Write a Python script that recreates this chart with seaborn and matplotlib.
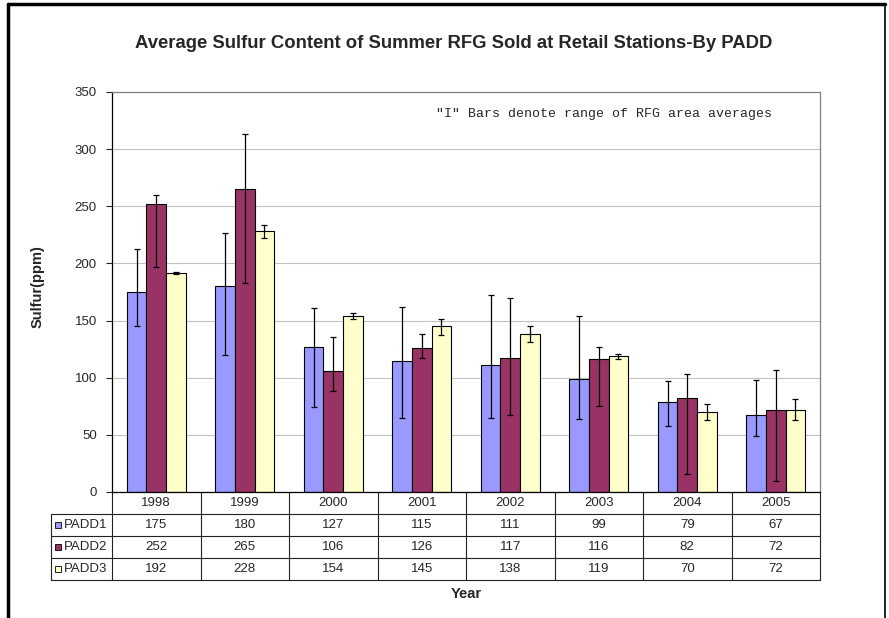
import numpy as np
import pandas as pd
import matplotlib
matplotlib.use("Agg")
import matplotlib.pyplot as plt
import seaborn as sns
from matplotlib.patches import Rectangle

# Data
years = ['1998', '1999', '2000', '2001', '2002', '2003', '2004', '2005']
padd1 = [175, 180, 127, 115, 111, 99, 79, 67]
padd2 = [252, 265, 106, 126, 117, 116, 82, 72]
padd3 = [192, 228, 154, 145, 138, 119, 70, 72]

# "I" bars: range of RFG area averages (estimated)
padd1_hi = [213, 227, 161, 162, 172, 154, 97, 98]
padd1_lo = [145, 120, 74, 65, 65, 64, 58, 49]
padd2_hi = [260, 313, 136, 138, 170, 127, 103, 107]
padd2_lo = [197, 183, 88, 117, 67, 75, 16, 10]
padd3_hi = [192.5, 234, 157, 151, 145, 121, 77, 81]
padd3_lo = [191, 222, 151, 137, 131, 116, 63, 63]

series = ['PADD1', 'PADD2', 'PADD3']
colors = ['#9999FF', '#993366', '#FFFFCC']

values = [padd1, padd2, padd3]
highs = [padd1_hi, padd2_hi, padd3_hi]
lows = [padd1_lo, padd2_lo, padd3_lo]

df = pd.DataFrame({
    'Year': years * 3,
    'Sulfur': padd1 + padd2 + padd3,
    'PADD': [s for s in series for _ in years],
})

sns.set_style('white')
plt.rcParams['font.family'] = ['Liberation Sans', 'DejaVu Sans']

fig = plt.figure(figsize=(8.89, 6.18), dpi=100)
ax = fig.add_axes([112 / 889, 1 - 492 / 618, 708 / 889, 400 / 618])

sns.barplot(data=df, x='Year', y='Sulfur', hue='PADD', order=years,
            hue_order=series, palette=colors, saturation=1, width=0.667,
            edgecolor='black', linewidth=0.8, errorbar=None, legend=False,
            ax=ax)

# range bars at the bar centres
for cont, v, hi, lo in zip(ax.containers, values, highs, lows):
    xs = [p.get_x() + p.get_width() / 2 for p in cont.patches]
    v = np.array(v, dtype=float)
    yerr = [v - np.array(lo), np.array(hi) - v]
    ax.errorbar(xs, v, yerr=yerr, fmt='none', ecolor='black',
                elinewidth=0.9, capsize=2.5, capthick=0.9, zorder=5)

ax.set_xlim(-0.5, 7.5)
ax.set_ylim(0, 350)
ax.set_yticks(np.arange(0, 351, 50))
ax.tick_params(axis='y', labelsize=9.5, length=4, width=0.8, pad=7,
               direction='out', left=True)
ax.set_xticks([])
ax.set_xlabel('')
ax.set_ylabel('')
ax.yaxis.grid(True, color='#c0c0c0', linewidth=0.8)
ax.set_axisbelow(True)
for side in ['left', 'bottom']:
    ax.spines[side].set_color('black')
    ax.spines[side].set_linewidth(0.9)
for side in ['top', 'right']:
    ax.spines[side].set_color('#808080')
    ax.spines[side].set_linewidth(0.9)

ax.text(0.932, 0.945, '"I" Bars denote range of RFG area averages',
        transform=ax.transAxes, ha='right', va='center',
        family='Liberation Mono', fontsize=9.5)

# data table under the plot
h = 22 / 400
xl = -61 / 708
lc = '#222222'
kw = dict(transform=ax.transAxes, clip_on=False, color=lc, lw=0.8)
for r in range(1, 5):
    ax.plot([xl, 1], [-r * h, -r * h], **kw)
for k in range(9):
    ax.plot([k / 8, k / 8], [0, -4 * h], **kw)
ax.plot([xl, xl], [-h, -4 * h], **kw)

for k, yr in enumerate(years):
    ax.text((k + 0.5) / 8, -0.5 * h, yr, transform=ax.transAxes,
            ha='center', va='center', fontsize=9.5)
for r, (name, col, v) in enumerate(zip(series, colors, values)):
    yc = -(r + 1.5) * h
    ax.add_patch(Rectangle((xl + 4 / 708, yc - 3 / 400), 6 / 708, 6 / 400,
                           transform=ax.transAxes, clip_on=False,
                           facecolor=col, edgecolor='black', lw=0.6))
    ax.text(xl + 13 / 708, yc, name, transform=ax.transAxes,
            ha='left', va='center', fontsize=9.5)
    for k, val in enumerate(v):
        ax.text((k + 0.5) / 8, yc, str(val), transform=ax.transAxes,
                ha='center', va='center', fontsize=9.5)

fig.text(454 / 889, 1 - 43 / 618,
         'Average Sulfur Content of Summer RFG Sold at Retail Stations-By PADD',
         ha='center', va='center', fontsize=13.3, fontweight='bold')
fig.text(466 / 889, 1 - 594 / 618, 'Year', ha='center', va='center',
         fontsize=10.5, fontweight='bold')
fig.text(38 / 889, 1 - 287 / 618, 'Sulfur(ppm)', ha='center', va='center',
         rotation=90, fontsize=10.5, fontweight='bold')

# outer frame of the chart
fig.add_artist(plt.Line2D([8 / 889, 8 / 889], [0, 1 - 4 / 618],
                          transform=fig.transFigure, color='black', lw=2.5))
fig.add_artist(plt.Line2D([8 / 889, 885 / 889], [1 - 4 / 618, 1 - 4 / 618],
                          transform=fig.transFigure, color='black', lw=2.5))
fig.add_artist(plt.Line2D([885 / 889, 885 / 889], [0, 1 - 4 / 618],
                          transform=fig.transFigure, color='black', lw=1.2))

fig.savefig('out.png', dpi=100, facecolor='white')
